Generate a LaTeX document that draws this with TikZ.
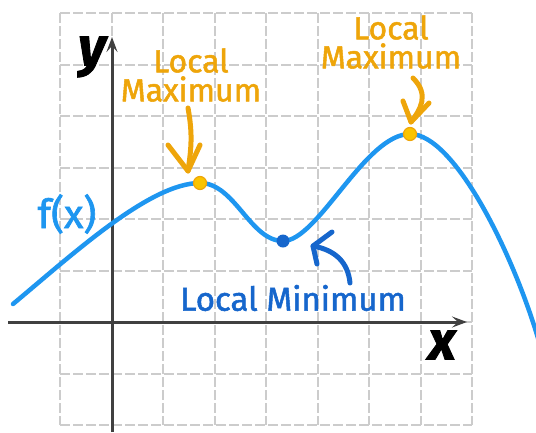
\documentclass[tikz,border=0pt]{standalone}
\usepackage{fontspec}
\setmainfont{Fira Sans}[FakeBold=1.6]
\usetikzlibrary{arrows.meta}
\definecolor{curveblue}{RGB}{30,150,240}
\definecolor{minblue}{RGB}{22,102,204}
\definecolor{maxorange}{RGB}{238,165,10}
\definecolor{dotyellow}{RGB}{250,196,0}
\definecolor{axisgray}{RGB}{64,64,64}
\definecolor{gridgray}{RGB}{204,204,204}
\begin{document}
\begin{tikzpicture}[x=1pt,y=-1pt,
  gridline/.style={gridgray, line width=2pt, dash pattern=on 10pt off 3pt},
  axisline/.style={axisgray, line width=3pt, -{Stealth[length=15pt,width=11pt,inset=6pt]}},
  fcurve/.style={curveblue, line width=4.5pt, line cap=round},
  maxdot/.style={circle, inner sep=0pt, minimum size=13pt, fill=dotyellow, draw=maxorange, line width=1.2pt},
  mindot/.style={circle, inner sep=0pt, minimum size=13pt, fill=minblue},
  maxtext/.style={text=maxorange, font=\fontsize{32}{29}\selectfont, align=center, inner sep=0pt},
  mintext/.style={text=minblue, font=\fontsize{33}{33}\selectfont, inner sep=0pt},
  ftext/.style={text=curveblue, font=\fontsize{40}{40}\selectfont, inner sep=0pt},
  axtext/.style={font=\fontsize{54}{54}\selectfont\bfseries\itshape, inner sep=0pt},
  hand/.style={line width=5pt, line cap=round, line join=round}]
\useasboundingbox (0,0) rectangle (536,432);
% grid
\foreach \i in {0,...,8} {
  \draw[gridline] ({60+51.5*\i},13) -- ({60+51.5*\i},425);
  \draw[gridline] (60,{13+51.5*\i}) -- (472,{13+51.5*\i});
}
% axes
\coordinate (ybot) at (112,432);
\coordinate (ytop) at (112,37);
\coordinate (xleft) at (8,322);
\coordinate (xright) at (467,322);
\draw[axisline] (xleft) -- (xright);
\draw[axisline] (ybot) -- (ytop);
\node[axtext] (ylab) at (92,57) {y};
\node[axtext] (xlab) at (442,345) {x};
% dot positions
\coordinate (m1) at (200,183);
\coordinate (m2) at (410,134);
\coordinate (n1) at (283,241);
\coordinate (c0) at (13,304);
\coordinate (c4) at (540,345);
% curve
\begin{scope}
\clip (0,0) rectangle (536,432);
\draw[fcurve] (c0) .. controls (73,254) and (150,183) .. (m1)
  .. controls (235,183) and (250,241) .. (n1)
  .. controls (318,241) and (365,134) .. (m2)
  .. controls (455,134) and (515,257) .. (c4);
\end{scope}
\node[ftext] (flab) at (67,214) {f(x)};
% dots
\node[maxdot] (max1) at (m1) {};
\node[maxdot] (max2) at (m2) {};
\node[mindot] (min1) at (n1) {};
% labels
\node[maxtext] (max1lab) at (191,75) {Local\\Maximum};
\node[maxtext] (max2lab) at (391,42) {Local\\Maximum};
\node[mintext] (minlab) at (293,298) {Local Minimum};
% hand-drawn arrows
\coordinate (a1s) at (188,108);
\coordinate (a1e) at (188,171);
\coordinate (a1l) at (168,145);
\coordinate (a1r) at (200,145);
\coordinate (a2s) at (413,78);
\coordinate (a2e) at (411,122);
\coordinate (a2l) at (403,101);
\coordinate (a2r) at (429,103);
\coordinate (a3s) at (350,283);
\coordinate (a3e) at (313,246);
\coordinate (a3u) at (332,232);
\coordinate (a3d) at (317,264);
\draw[hand, maxorange] (a1s) .. controls (193,135) and (191,150) .. (a1e);
\draw[hand, maxorange] (a1l) -- (a1e) -- (a1r);
\draw[hand, maxorange] (a2s) .. controls (430,95) and (420,110) .. (a2e);
\draw[hand, maxorange] (a2l) -- (a2e) -- (a2r);
\draw[hand, minblue] (a3s) .. controls (348,262) and (335,250) .. (a3e);
\draw[hand, minblue] (a3u) -- (a3e) -- (a3d);
\end{tikzpicture}
\end{document}
